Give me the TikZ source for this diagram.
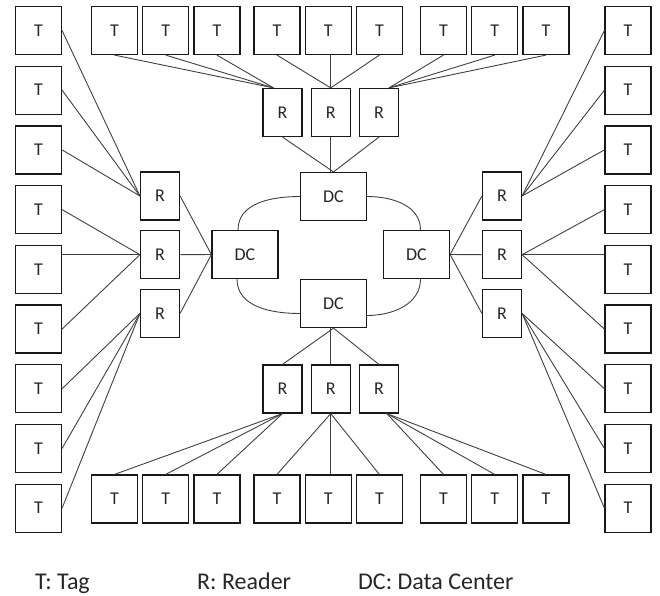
\documentclass[tikz,border=0pt]{standalone}
\usepackage{fontspec}
\setmainfont{Carlito}
\usetikzlibrary{positioning}
\tikzset{
  box/.style={draw=black!90, line width=1.2pt, inner sep=0pt,
    font=\fontsize{18}{20}\selectfont, text=black!85},
  every edge/.style={draw, line width=0.9pt, black!75},
}

\begin{document}
\begin{tikzpicture}[
x=1pt, y=1pt,
node distance=10.5pt and 4pt,
tag/.style={box, minimum width=46pt, minimum height=48pt},
reader/.style={box, minimum width=39pt, minimum height=48pt},
dc/.style={box, minimum width=66pt, minimum height=48pt},
legend/.style={inner sep=0pt, anchor=base west, text=black!85,
  font=\fontsize{24}{28}\selectfont}
]
\useasboundingbox (0,0) rectangle (660,-595);

% tags, left column
\node[tag] (tl1) at (38.5,-30.5) {T};
\node[tag,below=of tl1] (tl2) {T};
\node[tag,below=of tl2] (tl3) {T};
\node[tag,below=of tl3] (tl4) {T};
\node[tag,below=of tl4] (tl5) {T};
\node[tag,below=of tl5] (tl6) {T};
\node[tag,below=of tl6] (tl7) {T};
\node[tag,below=of tl7] (tl8) {T};
\node[tag,below=of tl8] (tl9) {T};

% tags, right column
\node[tag] (tr1) at (628,-30.5) {T};
\node[tag,below=of tr1] (tr2) {T};
\node[tag,below=of tr2] (tr3) {T};
\node[tag,below=of tr3] (tr4) {T};
\node[tag,below=of tr4] (tr5) {T};
\node[tag,below=of tr5] (tr6) {T};
\node[tag,below=of tr6] (tr7) {T};
\node[tag,below=of tr7] (tr8) {T};
\node[tag,below=of tr8] (tr9) {T};

% tags, top row
\node[tag] (tt1) at (114.5,-30.5) {T};
\node[tag,right=of tt1] (tt2) {T};
\node[tag,right=of tt2] (tt3) {T};
\node[tag] (tt4) at (277,-30.5) {T};
\node[tag,right=of tt4] (tt5) {T};
\node[tag,right=of tt5] (tt6) {T};
\node[tag] (tt7) at (443.5,-30.5) {T};
\node[tag,right=of tt7] (tt8) {T};
\node[tag,right=of tt8] (tt9) {T};

% tags, bottom row
\node[tag] (tb1) at (114.5,-499) {T};
\node[tag,right=of tb1] (tb2) {T};
\node[tag,right=of tb2] (tb3) {T};
\node[tag] (tb4) at (277,-499) {T};
\node[tag,right=of tb4] (tb5) {T};
\node[tag,right=of tb5] (tb6) {T};
\node[tag] (tb7) at (443.5,-499) {T};
\node[tag,right=of tb7] (tb8) {T};
\node[tag,right=of tb8] (tb9) {T};

% readers
\node[reader] (rt1) at (282.5,-112.5) {R};
\node[reader,right=8pt of rt1] (rt2) {R};
\node[reader,right=8pt of rt2] (rt3) {R};
\node[reader] (rb1) at (282.5,-389) {R};
\node[reader,right=8pt of rb1] (rb2) {R};
\node[reader,right=8pt of rb2] (rb3) {R};
\node[reader] (rl1) at (160,-196) {R};
\node[reader,below=9.5pt of rl1] (rl2) {R};
\node[reader,below=9.5pt of rl2] (rl3) {R};
\node[reader] (rr1) at (502,-196) {R};
\node[reader,below=9.5pt of rr1] (rr2) {R};
\node[reader,below=9.5pt of rr2] (rr3) {R};

% data centers
\node[dc] (dct) at (333.5,-196.5) {DC};
\node[dc] (dcl) at (245,-254.5) {DC};
\node[dc] (dcr) at (416.5,-254.5) {DC};
\node[dc] (dcb) at (333.5,-303.5) {DC};

\coordinate (rt1in) at ([xshift=-9pt]rt1.north);
\coordinate (rt3in) at ([xshift=10pt]rt3.north);
\coordinate (rb3in) at ([xshift=8pt]rb3.south);

% ring between data centers
\draw[line width=0.9pt, black!75]
  (dct.west) to[out=180,in=90] ([xshift=-7pt]dcl.north)
  ([xshift=-8pt]dcl.south) to[out=-90,in=180] ([yshift=-10pt]dcb.west)
  ([yshift=-12pt]dcb.east) to[out=0,in=-90] ([xshift=4pt]dcr.south)
  ([xshift=4pt]dcr.north) to[out=90,in=0] (dct.east);

% top
\path
(tt1.south) edge (rt1in)
(tt2.south) edge (rt1in)
(tt3.south) edge (rt1in)
(tt4.south) edge (rt2.north)
(rt2.north |- tt5.south) edge (rt2.north)
(tt6.south) edge (rt2.north)
(tt7.south) edge (rt3in)
(tt8.south) edge (rt3in)
(tt9.south) edge (rt3in)
(rt1.south) edge (dct.north)
(rt2.south) edge (rt2.south |- dct.north)
(rt3.south) edge (dct.north);

% bottom
\path
(dcb.south) edge (rb1.north)
(rb2.north |- dcb.south) edge (rb2.north)
(dcb.south) edge (rb3.north)
(rb1.south) edge (tb1.north)
(rb1.south) edge (tb2.north)
(rb1.south) edge (tb3.north)
(rb2.south) edge (tb4.north)
(rb2.south) edge (rb2.south |- tb5.north)
(rb2.south) edge (tb6.north)
(rb3in) edge (tb7.north)
(rb3in) edge (tb8.north)
(rb3in) edge (tb9.north);

% left
\path
(tl1.east) edge (rl1.west)
(tl2.east) edge (rl1.west)
(tl3.east) edge (rl1.west)
(tl4.east) edge (rl2.west)
(rl2.west -| tl5.east) edge (rl2.west)
(tl6.east) edge (rl2.west)
(tl7.east) edge (rl3.west)
(tl8.east) edge (rl3.west)
(tl9.east) edge (rl3.west)
(rl1.east) edge (dcl.west)
(rl2.east) edge (dcl.west)
(rl3.east) edge (dcl.west);

% right
\path
(tr1.west) edge (rr1.east)
(tr2.west) edge (rr1.east)
(tr3.west) edge (rr1.east)
(tr4.west) edge (rr2.east)
(rr2.east -| tr5.west) edge (rr2.east)
(tr6.west) edge (rr2.east)
(tr7.west) edge (rr3.east)
(tr8.west) edge (rr3.east)
(tr9.west) edge (rr3.east)
(rr1.west) edge (dcr.east)
(rr2.west) edge (dcr.east)
(rr3.west) edge (dcr.east);

% legend
\node[legend] (ltag) at (35,-589) {T: Tag};
\node[legend] (lreader) at (197,-589) {R: Reader};
\node[legend] (ldc) at (358,-589) {DC: Data Center};
\end{tikzpicture}
\end{document}
